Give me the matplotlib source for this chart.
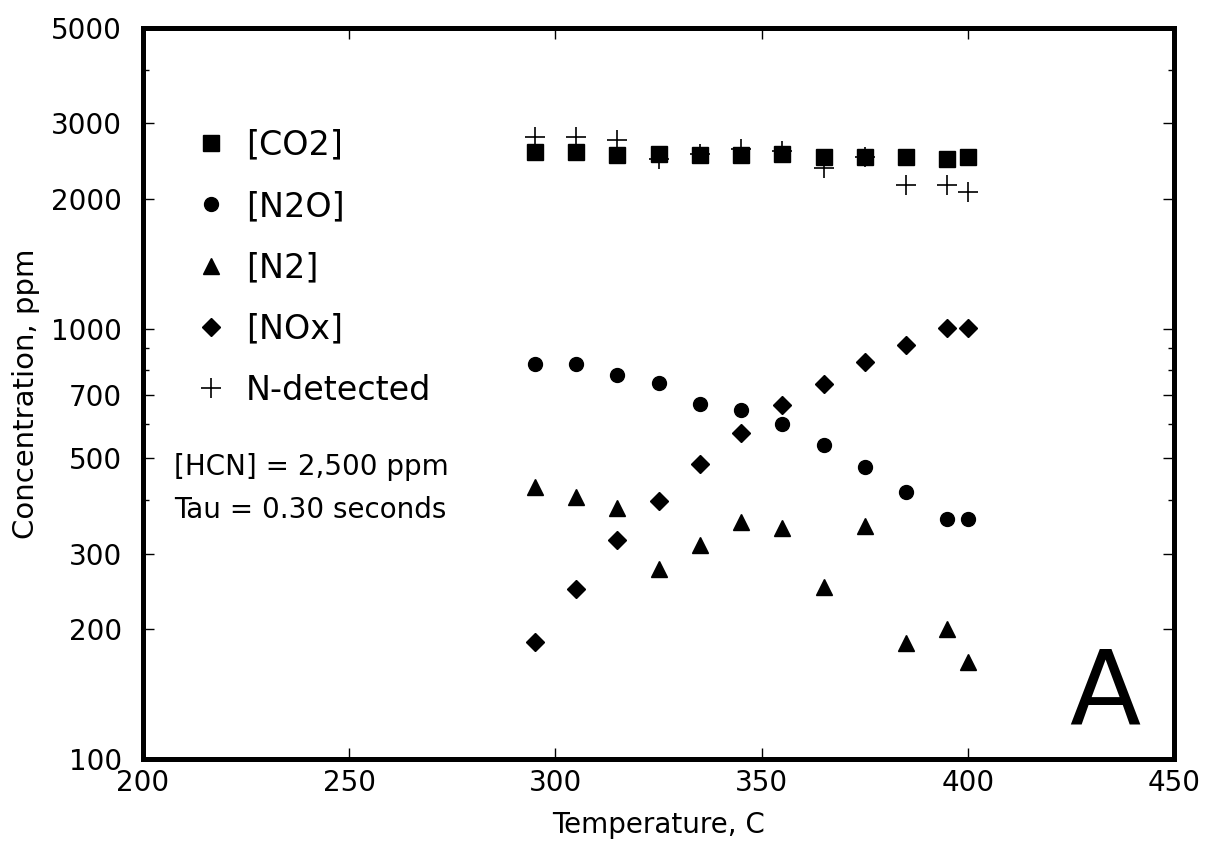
import numpy as np
import matplotlib
matplotlib.use('Agg')
import matplotlib.pyplot as plt
from matplotlib.ticker import FixedLocator, NullFormatter

plt.rcParams['font.family'] = ['DejaVu Sans']

temp = [295, 305, 315, 325, 335, 345, 355, 365, 375, 385, 395, 400]
co2 = [2570, 2580, 2540, 2550, 2540, 2540, 2545, 2510, 2500, 2500, 2485, 2500]
n2o = [827, 827, 780, 746, 668, 647, 600, 537, 478, 418, 361, 361]
n2 = [429, 406, 383, 277, 315, 355, 345, 251, 348, 186, 200, 168]
nox = [187, 248, 322, 398, 486, 571, 664, 743, 838, 916, 1005, 1005]
n_det = [2790, 2790, 2750, 2480, 2550, 2620, 2590, 2363, 2500, 2158, 2158, 2081]

y_ticks = [100, 200, 300, 500, 700, 1000, 2000, 3000, 5000]

fig = plt.figure(figsize=(12.07, 8.47), dpi=100)
ax = fig.add_axes([0.1185, 0.1039, 0.8542, 0.8631])

ax.plot(temp, co2, 's', color='black', markersize=12, label='[CO2]')
ax.plot(temp, n2o, 'o', color='black', markersize=10, label='[N2O]')
ax.plot(temp, n2, '^', color='black', markersize=11, label='[N2]')
ax.plot(temp, nox, 'D', color='black', markersize=9, label='[NOx]')
ax.plot(temp, n_det, '+', color='black', markersize=14, markeredgewidth=1.2,
        label='N-detected')

ax.set_yscale('log')
ax.set_xlim(200, 450)
ax.set_ylim(100, 5000)
ax.yaxis.set_major_locator(FixedLocator(y_ticks))
ax.set_yticklabels([str(v) for v in y_ticks])
ax.yaxis.set_minor_locator(FixedLocator([400, 600, 800, 900, 4000]))
ax.yaxis.set_minor_formatter(NullFormatter())
ax.set_xticks([200, 250, 300, 350, 400, 450])

ax.tick_params(which='both', direction='in', top=True, right=True,
               labelsize=20, width=1)
ax.tick_params(which='major', length=8)
ax.tick_params(which='minor', length=4)
ax.tick_params(axis='y', pad=15)
ax.tick_params(axis='x', pad=7)
for s in ax.spines.values():
    s.set_linewidth(3.6)

ax.set_xlabel('Temperature, C', fontsize=20, labelpad=10)
ax.set_ylabel('Concentration, ppm', fontsize=21)
ax.yaxis.set_label_coords(-0.10, 0.5)

ax.legend(loc='upper left', bbox_to_anchor=(0.03, 0.885), frameon=False,
          fontsize=24, labelspacing=0.85, handletextpad=0.45,
          handlelength=1.2, borderpad=0)

ax.text(0.03, 0.40, '[HCN] = 2,500 ppm', transform=ax.transAxes,
        fontsize=20, va='center')
ax.text(0.03, 0.34, 'Tau = 0.30 seconds', transform=ax.transAxes,
        fontsize=20, va='center')
ax.text(0.933, 0.048, 'A', transform=ax.transAxes, fontsize=75,
        ha='center', va='baseline')

fig.savefig('out.png', dpi=100)
